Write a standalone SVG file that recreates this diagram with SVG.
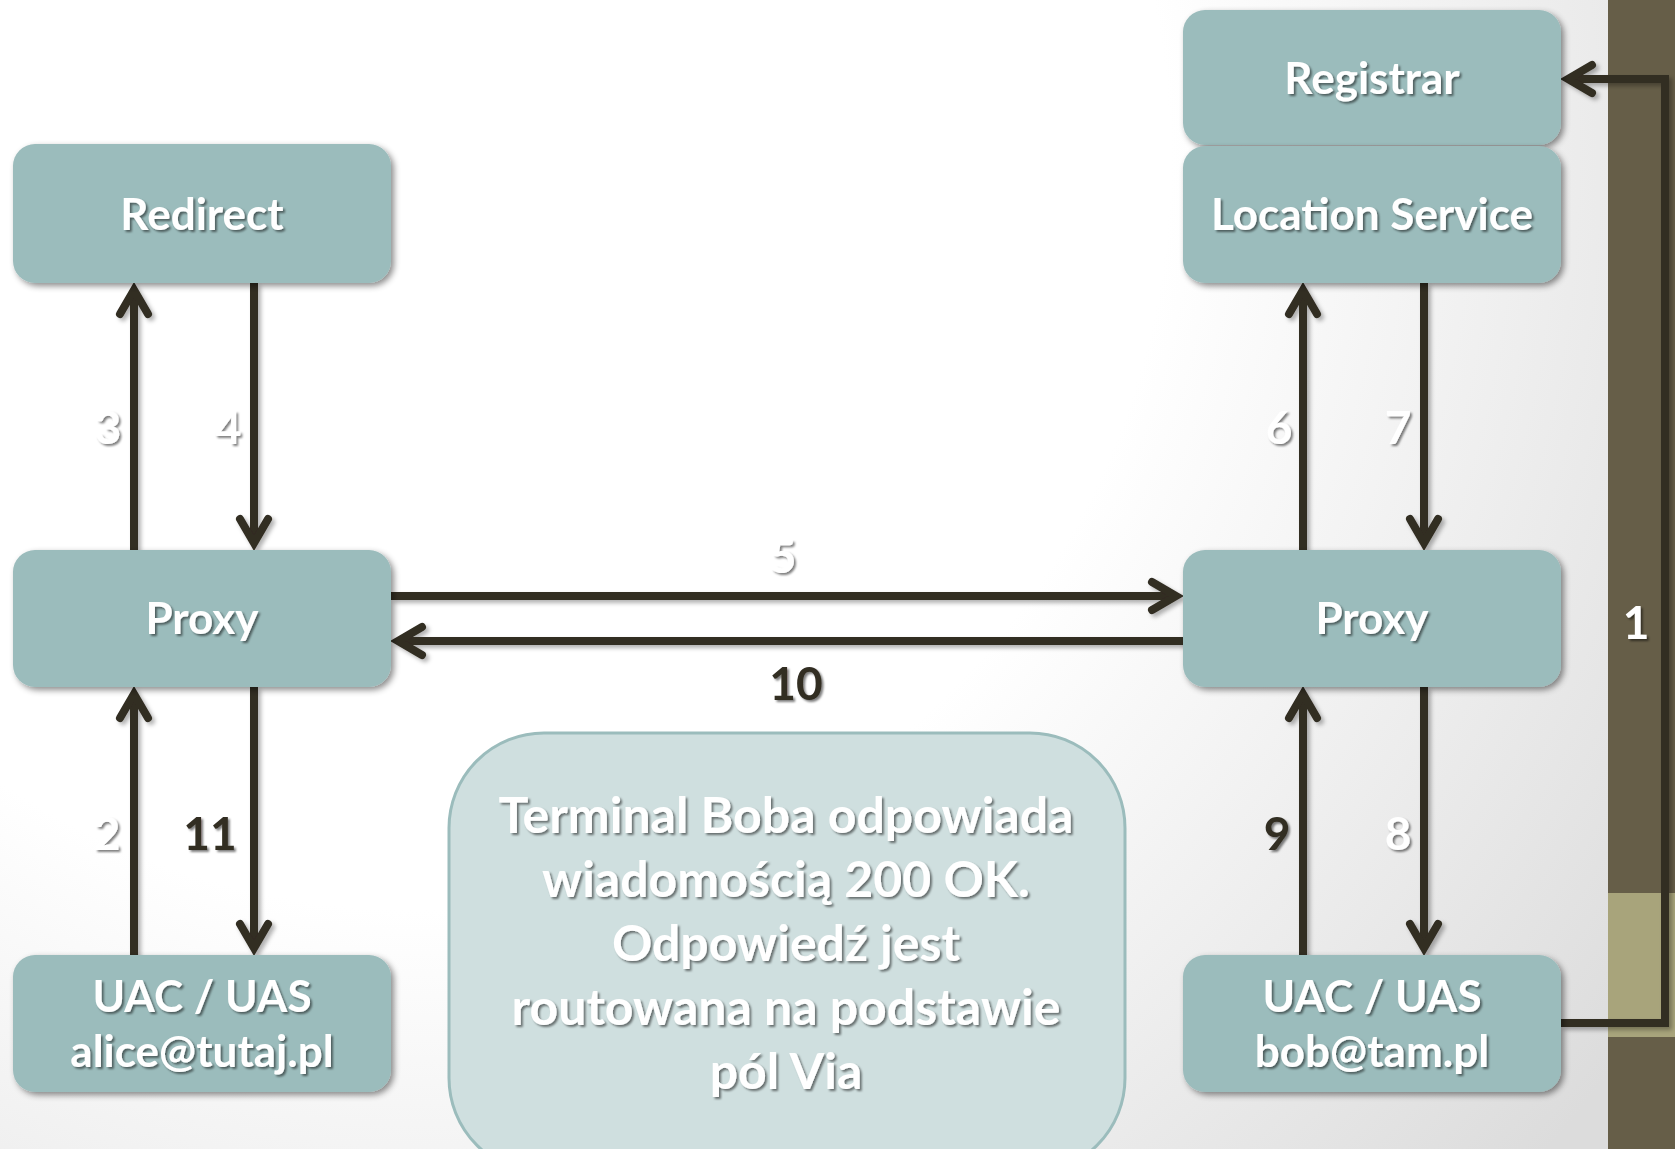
<svg xmlns="http://www.w3.org/2000/svg" width="1675" height="1149" viewBox="0 0 1675 1149">
  <defs>
    <radialGradient id="bg" cx="420" cy="160" r="1500" gradientUnits="userSpaceOnUse">
      <stop offset="0.5" stop-color="#ffffff"/>
      <stop offset="1" stop-color="#dcdcdc"/>
    </radialGradient>
    <filter id="boxShadow" x="-10%" y="-10%" width="125%" height="130%">
      <feDropShadow dx="3" dy="3" stdDeviation="3" flood-color="#000" flood-opacity="0.45"/>
    </filter>
    <filter id="textShadow" x="-10%" y="-20%" width="125%" height="150%">
      <feDropShadow dx="2" dy="2" stdDeviation="1.2" flood-color="#000" flood-opacity="0.5"/>
    </filter>
    <filter id="lineShadow" x="-20%" y="-20%" width="140%" height="140%">
      <feDropShadow dx="3" dy="3" stdDeviation="2" flood-color="#000" flood-opacity="0.3"/>
    </filter>
    <marker id="chev" viewBox="-34 -22 48 44" markerWidth="48" markerHeight="44" refX="0" refY="0" orient="auto" markerUnits="userSpaceOnUse">
      <path d="M-24,-14 L0,0 L-24,14" fill="none" stroke="#312d22" stroke-width="8" stroke-linecap="round" stroke-linejoin="miter"/>
    </marker>
    <style>
      .box { fill: #9bbcbc; filter: url(#boxShadow); }
      .lbl { font-family: Lato, "Open Sans", "Liberation Sans", sans-serif; font-weight: 700; font-size: 44px; fill: #ffffff; text-anchor: middle; filter: url(#textShadow); }
      .num { font-family: Lato, "Open Sans", "Liberation Sans", sans-serif; font-weight: 700; font-size: 46px; text-anchor: middle; filter: url(#textShadow); }
      .w { fill: #ffffff; }
      .d { fill: #312d22; }
      .conn { fill: none; stroke: #312d22; stroke-width: 8; stroke-linejoin: miter; }
      .note { fill: #cfdfdf; stroke: #9bbcbc; stroke-width: 3; }
      .noteText { font-family: Lato, "Open Sans", "Liberation Sans", sans-serif; font-weight: 700; font-size: 50px; fill: #ffffff; text-anchor: middle; filter: url(#textShadow); }
    </style>
  </defs>

  <!-- page background and side band -->
  <rect x="0" y="0" width="1675" height="1149" fill="url(#bg)"/>
  <rect x="1608" y="0" width="67" height="1149" fill="#665e48"/>
  <rect x="1608" y="893" width="67" height="144" fill="#a8a47b"/>

  <!-- explanation panel -->
  <g id="note">
    <rect class="note" x="449" y="733" width="676" height="440" rx="95"/>
    <text class="noteText" x="786" y="833">Terminal Boba odpowiada</text>
    <text class="noteText" x="786" y="897">wiadomością 200 OK.</text>
    <text class="noteText" x="786" y="961">Odpowiedź jest</text>
    <text class="noteText" x="786" y="1025">routowana na podstawie</text>
    <text class="noteText" x="786" y="1089">pól Via</text>
  </g>

  <!-- connectors -->
  <g id="connectors" filter="url(#lineShadow)">
    <line class="conn" x1="134" y1="550" x2="134" y2="290" marker-end="url(#chev)"/>
    <line class="conn" x1="254" y1="283" x2="254" y2="543" marker-end="url(#chev)"/>
    <line class="conn" x1="391" y1="596" x2="1176" y2="596" marker-end="url(#chev)"/>
    <line class="conn" x1="1183" y1="641" x2="398" y2="641" marker-end="url(#chev)"/>
    <line class="conn" x1="134" y1="955" x2="134" y2="694" marker-end="url(#chev)"/>
    <line class="conn" x1="254" y1="687" x2="254" y2="948" marker-end="url(#chev)"/>
    <line class="conn" x1="1303" y1="550" x2="1303" y2="290" marker-end="url(#chev)"/>
    <line class="conn" x1="1424" y1="283" x2="1424" y2="543" marker-end="url(#chev)"/>
    <line class="conn" x1="1303" y1="955" x2="1303" y2="694" marker-end="url(#chev)"/>
    <line class="conn" x1="1424" y1="687" x2="1424" y2="948" marker-end="url(#chev)"/>
    <path class="conn" d="M1561,1023 H1665 V79 H1568" marker-end="url(#chev)"/>
  </g>

  <!-- step numbers -->
  <g id="steps">
    <text class="num w" x="1636" y="639">1</text>
    <text class="num w" x="107" y="850">2</text>
    <text class="num w" x="108" y="444">3</text>
    <text class="num w" x="228" y="444">4</text>
    <text class="num w" x="783" y="573">5</text>
    <text class="num w" x="1279" y="444">6</text>
    <text class="num w" x="1398" y="444">7</text>
    <text class="num w" x="1398" y="850">8</text>
    <text class="num d" x="1277" y="850">9</text>
    <text class="num d" x="796" y="700">10</text>
    <text class="num d" x="210" y="850">11</text>
  </g>

  <!-- nodes -->
  <g id="redirect">
    <rect class="box" x="13" y="144" width="378" height="139" rx="22"/>
    <text class="lbl" x="202" y="230">Redirect</text>
  </g>
  <g id="proxy-left">
    <rect class="box" x="13" y="550" width="378" height="137" rx="22"/>
    <text class="lbl" x="202" y="634">Proxy</text>
  </g>
  <g id="alice">
    <rect class="box" x="13" y="955" width="378" height="137" rx="22"/>
    <text class="lbl" x="202" y="1012">UAC / UAS</text>
    <text class="lbl" x="202" y="1067">alice@tutaj.pl</text>
  </g>
  <g id="registrar">
    <rect class="box" x="1183" y="10" width="378" height="135" rx="22"/>
    <text class="lbl" x="1372" y="94">Registrar</text>
  </g>
  <g id="location-service">
    <rect class="box" x="1183" y="146" width="378" height="137" rx="22"/>
    <text class="lbl" x="1372" y="230">Location Service</text>
  </g>
  <g id="proxy-right">
    <rect class="box" x="1183" y="550" width="378" height="137" rx="22"/>
    <text class="lbl" x="1372" y="634">Proxy</text>
  </g>
  <g id="bob">
    <rect class="box" x="1183" y="955" width="378" height="137" rx="22"/>
    <text class="lbl" x="1372" y="1012">UAC / UAS</text>
    <text class="lbl" x="1372" y="1067">bob@tam.pl</text>
  </g>
</svg>
